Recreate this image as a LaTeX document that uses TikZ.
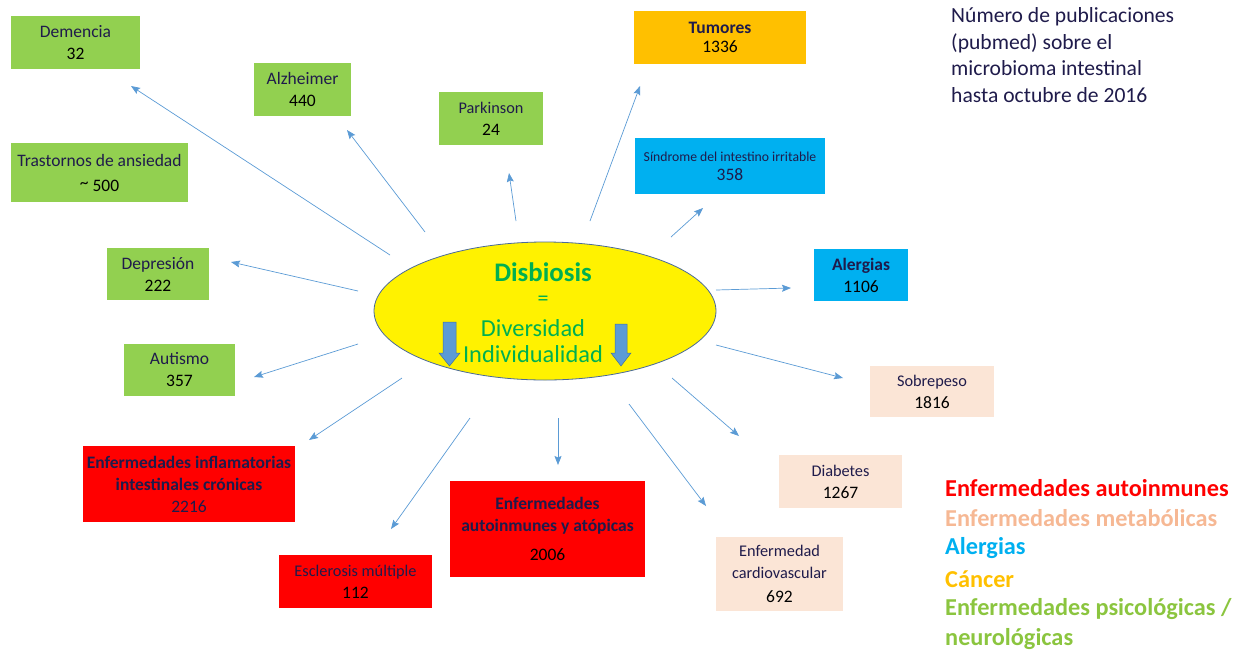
\documentclass[tikz,border=0pt]{standalone}
\usepackage{fontspec}
\setmainfont{Carlito}
\usetikzlibrary{arrows.meta,shapes.geometric}
\definecolor{grn}{HTML}{92D050}
\definecolor{redb}{HTML}{FF0000}
\definecolor{peach}{HTML}{FBE5D6}
\definecolor{blu}{HTML}{00B0F0}
\definecolor{org}{HTML}{FFC000}
\definecolor{navy}{HTML}{1F1B4B}
\definecolor{arr}{HTML}{5B9BD5}
\definecolor{arrdk}{HTML}{41719C}
\definecolor{dgreen}{HTML}{00B050}
\definecolor{legpeach}{HTML}{F6B894}
\definecolor{leggreen}{HTML}{8BC53F}
\definecolor{ellline}{HTML}{4A6A9A}
\newcommand{\nb}[1]{{\fontsize{17.5}{22}\selectfont\color{black}#1}}
\tikzset{
  box/.style n args={2}{rectangle, inner sep=0pt, align=center, text=navy,
    minimum width=#1pt, minimum height=#2pt},
  f17/.style={font=\fontsize{17.5}{22}\selectfont},
  f16/.style={font=\fontsize{16.3}{22}\selectfont},
  conn/.style={draw=arr, line width=0.7pt, -{Stealth[length=9pt,width=7pt,inset=1.5pt]}},
  legend/.style={anchor=west, font=\fontsize{24.3}{30.4}\selectfont\bfseries, inner sep=0pt},
  blockarrow/.style={fill=arr, draw=arrdk, line width=0.5pt},
}
\begin{document}
\begin{tikzpicture}[x=1pt,y=-1pt]
\useasboundingbox (0,0) rectangle (1251,649);

% ---- central ellipse ----
\node[ellipse, draw=ellline, line width=0.8pt, fill=yellow, minimum width=342pt, minimum height=138pt, inner sep=0pt] (dis) at (545,311) {};
\node[text=dgreen, font=\fontsize{26.8}{28}\selectfont\bfseries] (t1) at (543,272) {Disbiosis};
\node[text=dgreen, font=\fontsize{22}{24}\selectfont] (t2) at (543,301) {=};
\node[text=dgreen, font=\fontsize{24.4}{26}\selectfont, align=center] (t3) at (533,341) {Diversidad\\Individualidad};
\draw[blockarrow] (443,322) -- (456,322) -- (456,353) -- (460,353) -- (449.5,366) -- (439,353) -- (443,353) -- cycle;
\draw[blockarrow] (615,324) -- (627,324) -- (627,353) -- (631,353) -- (621,366) -- (611,353) -- (615,353) -- cycle;

% ---- boxes ----
\node[box={129}{53}, fill=grn, f17] (dem) at (75.5,42.5) {Demencia\\\nb{32}};
\node[box={97}{53}, fill=grn, f17] (alz) at (302.5,89.5) {Alzheimer\\\nb{440}};
\node[box={177}{59}, fill=grn, font=\fontsize{17.5}{25}\selectfont] (tra) at (99.5,172.5) {Trastornos de ansiedad\\\nb{\raisebox{3pt}{\~{}} 500}};
\node[box={104}{53}, fill=grn, f16] (par) at (491,118.5) {Parkinson\\\nb{24}};
\node[box={102}{52}, fill=grn, f17] (dep) at (158,274) {Depresión\\\nb{222}};
\node[box={111}{52}, fill=grn, f17] (aut) at (179.5,370) {Autismo\\\nb{357}};
\node[box={212}{76}, fill=redb, f17] (eii) at (189,484) {\textbf{Enfermedades inflamatorias}\\\textbf{intestinales crónicas}\\2216};
\node[box={153}{53}, fill=redb, f16] (esc) at (355.5,581.5) {Esclerosis múltiple\\\nb{112}};
\node[box={195}{96}, fill=redb, f17] (ati) at (547.5,529) {\textbf{Enfermedades}\\\textbf{autoinmunes y atópicas}\\[7pt]\nb{2006}};
\node[box={127}{74}, fill=peach, f16] (car) at (779.5,574) {Enfermedad\\cardiovascular\\[2pt]\nb{692}};
\node[box={123}{53}, fill=peach, f16] (dia) at (840.5,481.5) {Diabetes\\\nb{1267}};
\node[box={124}{51}, fill=peach, f16] (sob) at (932,391.5) {Sobrepeso\\\nb{1816}};
\node[box={94}{52}, fill=blu, f17] (ale) at (861,275) {\textbf{Alergias}\\\nb{1106}};
\node[box={190}{56}, fill=blu, font=\fontsize{13.7}{19}\selectfont] (sin) at (730,166) {Síndrome del intestino irritable\\{\fontsize{17.5}{19}\selectfont 358}};
\node[box={172}{53}, fill=org, font=\fontsize{17.5}{19.5}\selectfont] (tum) at (720,37.5) {\textbf{Tumores}\\\textcolor{black}{1336}};

% ---- note ----
\node[anchor=north west, inner sep=0pt, align=left, text=navy, font=\fontsize{21.6}{26.8}\selectfont] (note) at (951,7) {Número de publicaciones\\(pubmed) sobre el\\microbioma intestinal\\hasta octubre de 2016};

% ---- legend ----
\node[legend, text=redb] (l1) at (945,488) {Enfermedades autoinmunes};
\node[legend, text=legpeach] (l2) at (945,518.5) {Enfermedades metabólicas};
\node[legend, text=blu] (l3) at (945,548.5) {Alergias};
\node[legend, text=org] (l4) at (945,579) {Cáncer};
\node[legend, text=leggreen] (l5) at (945,609.5) {Enfermedades psicológicas /};
\node[legend, text=leggreen] (l6) at (945,639) {neurológicas};

% ---- connectors (free ends near ellipse and boxes) ----
\coordinate (sDem) at (390,255);  \coordinate (eDem) at (131,86);
\coordinate (sAlz) at (425,232);  \coordinate (eAlz) at (347,130);
\coordinate (sPar) at (516,221);  \coordinate (ePar) at (509,173);
\coordinate (sTum) at (590,221);  \coordinate (eTum) at (640,86);
\coordinate (sSin) at (671,237);  \coordinate (eSin) at (703,208);
\coordinate (sAle) at (716,290);  \coordinate (eAle) at (791,288);
\coordinate (sSob) at (716,345);  \coordinate (eSob) at (843,378);
\coordinate (sDia) at (672,378);  \coordinate (eDia) at (739,436);
\coordinate (sCar) at (629,404);  \coordinate (eCar) at (706,506);
\coordinate (sAti) at (558,418);  \coordinate (eAti) at (558,465);
\coordinate (sEsc) at (470,418);  \coordinate (eEsc) at (391,529);
\coordinate (sEii) at (402,378);  \coordinate (eEii) at (309,440);
\coordinate (sAut) at (358,344);  \coordinate (eAut) at (254,377);
\coordinate (sDep) at (358,291);  \coordinate (eDep) at (231,262);
\foreach \n in {Dem,Alz,Par,Tum,Sin,Ale,Sob,Dia,Car,Ati,Esc,Eii,Aut,Dep}
  \draw[conn] (s\n) -- (e\n);
\end{tikzpicture}
\end{document}
